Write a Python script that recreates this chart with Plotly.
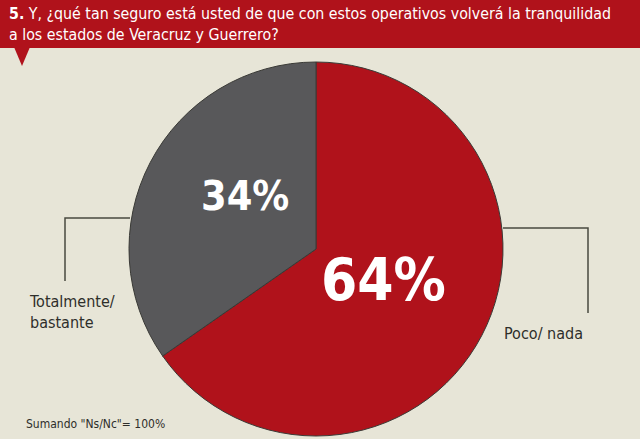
import plotly.graph_objects as go

labels = ["Poco/ nada", "Totalmente/<br>bastante"]
values = [64, 34]
pct_text = ["64%", "34%"]
colors = ["#b0121b", "#58585a"]
title_line1 = "<b>5.</b> Y, ¿qué tan seguro está usted de que con estos operativos volverá la tranquilidad"
title_line2 = "a los estados de Veracruz y Guerrero?"
note = "Sumando \"Ns/Nc\"= 100%"

W, H = 640, 439
bg = "#e7e5d7"

def px(x):
    return x / W

def py(y):
    return 1 - y / H

fig = go.Figure()
cx, cy, r = 316, 249, 187
fig.add_trace(go.Pie(
    labels=labels, values=values, sort=False, direction="clockwise", rotation=0,
    marker=dict(colors=colors, line=dict(color="#3a3a36", width=1)),
    textinfo="none", hoverinfo="label+percent", showlegend=False,
    domain=dict(x=[px(cx - r), px(cx + r)], y=[py(cy + r), py(cy - r)]),
))

font_main = "DejaVu Sans Condensed, Liberation Sans Narrow, Arial Narrow, sans-serif"

shapes = [
    dict(type="rect", xref="paper", yref="paper", x0=0, x1=1, y0=py(48), y1=1,
         fillcolor="#b0121b", line=dict(width=0), layer="below"),
    dict(type="path", xref="paper", yref="paper",
         path=f"M {px(14)} {py(47)} L {px(30)} {py(47)} L {px(22)} {py(66)} Z",
         fillcolor="#b0121b", line=dict(width=0)),
    dict(type="path", xref="paper", yref="paper",
         path=f"M {px(130)} {py(218)} L {px(65)} {py(218)} L {px(65)} {py(281)}",
         line=dict(color="#4a4a40", width=1.5)),
    dict(type="path", xref="paper", yref="paper",
         path=f"M {px(503)} {py(228)} L {px(588)} {py(228)} L {px(588)} {py(313)}",
         line=dict(color="#4a4a40", width=1.5)),
]

annotations = [
    dict(text=title_line1, x=px(7), y=py(14), xanchor="left", yanchor="middle",
         font=dict(family=font_main, size=15.8, color="white")),
    dict(text=title_line2, x=px(7), y=py(34), xanchor="left", yanchor="middle",
         font=dict(family=font_main, size=15.8, color="white")),
    dict(text="<b>" + pct_text[1] + "</b>", x=px(245), y=py(196), xanchor="center", yanchor="middle",
         font=dict(family="DejaVu Sans Condensed, DejaVu Sans, sans-serif", size=41, color="white")),
    dict(text="<b>" + pct_text[0] + "</b>", x=px(383), y=py(280), xanchor="center", yanchor="middle",
         font=dict(family="DejaVu Sans Condensed, DejaVu Sans, sans-serif", size=58, color="white")),
    dict(text=labels[1], x=px(27), y=py(312), xanchor="left", yanchor="middle", align="left",
         font=dict(family=font_main, size=16, color="#2e2e2a")),
    dict(text=labels[0], x=px(502), y=py(333), xanchor="left", yanchor="middle",
         font=dict(family=font_main, size=16, color="#2e2e2a")),
    dict(text=note, x=px(24), y=py(424), xanchor="left", yanchor="middle",
         font=dict(family=font_main, size=12, color="#2e2e2a")),
]
for a in annotations:
    a.update(xref="paper", yref="paper", showarrow=False)

fig.update_layout(
    width=W, height=H, margin=dict(l=0, r=0, t=0, b=0),
    paper_bgcolor=bg, plot_bgcolor=bg,
    shapes=shapes, annotations=annotations,
)
fig.write_html("out.html")
